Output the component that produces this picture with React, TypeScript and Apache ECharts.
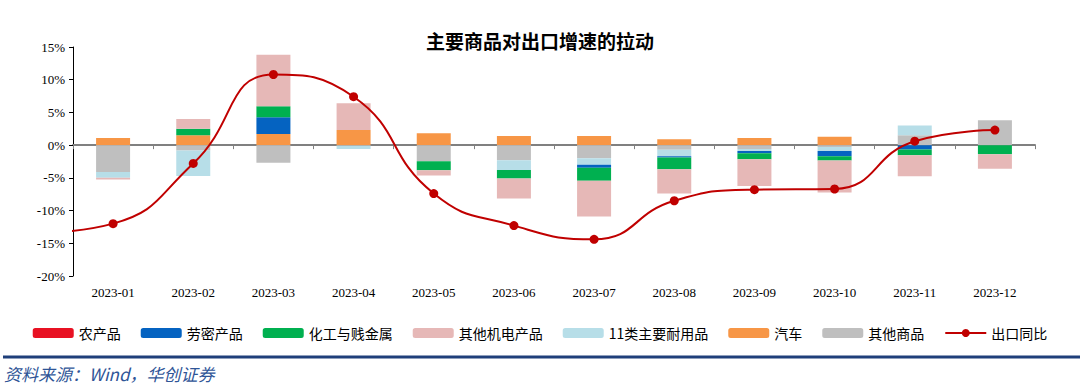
import React, { useEffect, useRef } from "react";
import * as echarts from "echarts";

// index 0 ("2022-12") lies outside the visible axis range; only the line uses it
const months = ["2022-12", "2023-01", "2023-02", "2023-03", "2023-04", "2023-05", "2023-06", "2023-07", "2023-08", "2023-09", "2023-10", "2023-11", "2023-12"];
const yTicks = [-20, -15, -10, -5, 0, 5, 10, 15];

const auto = [null, 1.1, 1.5, 1.7, 2.3, 1.8, 1.4, 1.4, 0.9, 1.1, 1.3, 0, 0];
const otherGoods = [null, -4.1, -0.8, -2.7, -0.1, -2.45, -2.3, -2.0, -0.7, -0.6, -0.3, 1.5, 3.8];
const durables = [null, -0.9, -3.9, 0, -0.5, 0, -1.5, -1.0, -1.0, -0.3, -0.6, 1.5, 0];
const labor = [null, 0, 0, 2.55, 0, 0, 0, -0.45, -0.2, -0.35, -0.8, -0.65, 0];
const chem = [null, 0, 1.0, 1.7, 0, -1.4, -1.3, -2.0, -1.8, -0.9, -0.65, -0.9, -1.4];
const mech = [null, -0.25, 1.5, 7.85, 4.1, -0.8, -3.05, -5.45, -3.7, -4.1, -4.9, -3.2, -2.2];
const agri = [null, 0, 0, 0, 0, 0, 0, 0, 0, 0, 0, 0, 0];
const exportYoY = [-13.5, -12.0, -2.8, 10.8, 7.4, -7.4, -12.3, -14.4, -8.5, -6.8, -6.7, 0.6, 2.3];

const legendOrder = ["农产品", "劳密产品", "化工与贱金属", "其他机电产品", "11类主要耐用品", "汽车", "其他商品", "出口同比"];

export default function App() {
  const ref = useRef<HTMLDivElement>(null);
  useEffect(() => {
    if (!ref.current) return;
    const chart = echarts.init(ref.current, undefined, { renderer: "svg" });
    const serif = "Liberation Serif";
    const cjk = "Noto Sans CJK SC";
    const bar = (name: string, data: (number | null)[], color: string) => ({
      name,
      type: "bar",
      stack: "total",
      barWidth: 34,
      data,
      itemStyle: { color },
      xAxisIndex: 0,
    });
    chart.setOption({
      animation: false,
      backgroundColor: "#fff",
      title: {
        text: "主要商品对出口增速的拉动",
        left: "center",
        top: 26,
        textStyle: { fontSize: 19, fontWeight: "bold", fontFamily: cjk, color: "#000" },
      },
      grid: { left: 73, right: 45, top: 47, bottom: 113 },
      legend: {
        data: legendOrder,
        left: "center",
        top: 321,
        itemWidth: 41,
        itemHeight: 10,
        itemGap: 20,
        textStyle: { fontSize: 14, fontFamily: cjk, color: "#000" },
      },
      xAxis: [
        {
          type: "category",
          data: months,
          min: 1,
          axisLine: { onZero: true, lineStyle: { color: "#808080", width: 2 } },
          axisTick: { show: true, length: 4, lineStyle: { color: "#808080" } },
          axisLabel: { show: false },
        },
        {
          type: "category",
          data: months,
          min: 1,
          position: "bottom",
          axisLine: { show: false, onZero: false },
          axisTick: { show: false },
          axisLabel: { interval: 0, margin: 10, fontSize: 13, fontFamily: serif, color: "#000" },
        },
      ],
      yAxis: {
        type: "value",
        min: yTicks[0],
        max: yTicks[yTicks.length - 1],
        interval: 5,
        splitLine: { show: false },
        axisLine: { show: true, lineStyle: { color: "#000", width: 1 } },
        axisTick: { show: true, length: 4, lineStyle: { color: "#000" } },
        axisLabel: { formatter: (v: number) => `${v}%`, fontSize: 13, fontFamily: serif, color: "#000", margin: 8 },
      },
      series: [
        bar("汽车", auto, "#F79646"),
        bar("其他商品", otherGoods, "#BFBFBF"),
        bar("11类主要耐用品", durables, "#B7DEE8"),
        bar("劳密产品", labor, "#0563C1"),
        bar("化工与贱金属", chem, "#00B050"),
        bar("其他机电产品", mech, "#E6B8B7"),
        bar("农产品", agri, "#E81123"),
        {
          name: "出口同比",
          type: "line",
          smooth: true,
          xAxisIndex: 0,
          data: exportYoY.map((v, i) => (i === 0 ? { value: v, symbol: "none" } : v)),
          symbol: "circle",
          symbolSize: 9,
          lineStyle: { color: "#C00000", width: 2 },
          itemStyle: { color: "#C00000" },
          z: 10,
        },
      ],
      graphic: [
        { type: "rect", left: 3, top: 355.5, shape: { width: 1077, height: 3 }, style: { fill: "#1F3F7A" } },
        {
          type: "text",
          left: 4,
          top: 365,
          style: {
            text: "资料来源：Wind，华创证券",
            fontSize: 17,
            fontStyle: "italic",
            fontFamily: cjk,
            fill: "#2F5597",
          },
        },
      ],
    });
    return () => chart.dispose();
  }, []);
  return <div ref={ref} style={{ position: "fixed", left: 0, top: 0, width: 1080, height: 389 }} />;
}
